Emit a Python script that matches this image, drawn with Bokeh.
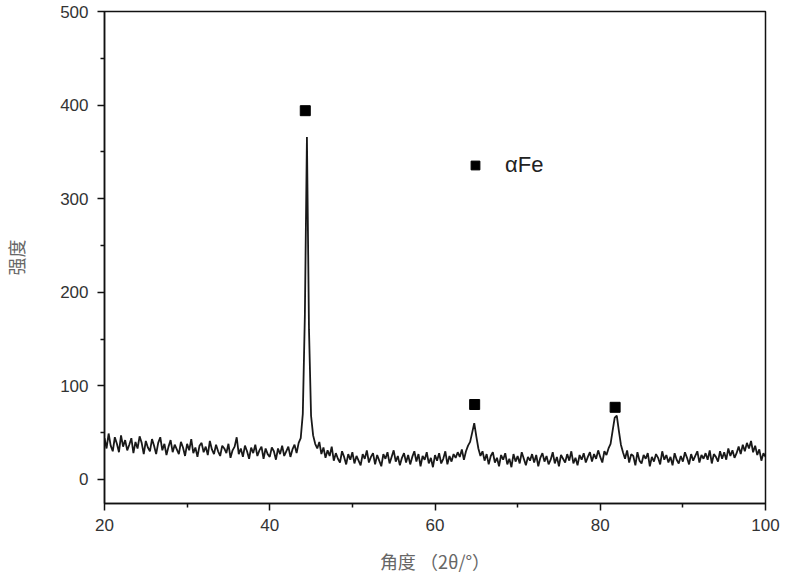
from bokeh.plotting import figure
from bokeh.models import FixedTicker, Legend, LegendItem, Range1d
from bokeh.embed import file_html
from bokeh.resources import INLINE

# XRD intensity, 2θ from 20° to 100° in 0.25° steps
intensity = [
    44, 33, 49, 36,   # 20
    30, 45, 38, 29,   # 21
    47, 35, 42, 31,   # 22
    37, 44, 28, 40,   # 23
    33, 46, 39, 27,   # 24
    41, 34, 30, 43,   # 25
    36, 27, 39, 45,   # 26
    31, 38, 26, 35,   # 27
    42, 29, 37, 32,   # 28
    27, 40, 34, 25,   # 29
    38, 31, 43, 28,   # 30
    34, 24, 36, 39,   # 31
    29, 35, 26, 41,   # 32
    32, 27, 37, 30,   # 33
    25, 36, 33, 28,   # 34
    38, 23, 31, 35,   # 35
    45, 27, 33, 24,   # 36
    36, 30, 22, 34,   # 37
    28, 37, 25, 31,   # 38
    35, 22, 33, 27,   # 39
    24, 34, 30, 21,   # 40
    33, 27, 36, 25,   # 41
    30, 35, 24, 32,   # 42
    37, 28, 39, 44,   # 43
    70, 175, 366, 160,  # 44
    68, 47, 38, 33,   # 45
    40, 27, 34, 23,   # 46
    31, 25, 35, 20,   # 47
    28, 22, 18, 30,   # 48
    24, 16, 27, 21,   # 49
    29, 17, 25, 20,   # 50
    15, 27, 22, 31,   # 51
    18, 24, 28, 16,   # 52
    26, 20, 14, 27,   # 53
    22, 29, 17, 24,   # 54
    31, 19, 25, 15,   # 55
    23, 28, 18, 26,   # 56
    16, 24, 30, 19,   # 57
    27, 14, 25, 21,   # 58
    29, 17, 23, 13,   # 59
    26, 20, 28, 17,   # 60
    22, 30, 16, 25,   # 61
    19, 27, 23, 29,   # 62
    24, 32, 21, 30,   # 63
    36, 40, 50, 60,   # 64
    46, 33, 25, 30,   # 65
    20, 27, 16, 25,   # 66
    29, 18, 23, 14,   # 67
    26, 21, 28, 16,   # 68
    22, 13, 27, 19,   # 69
    25, 17, 29, 22,   # 70
    15, 24, 20, 27,   # 71
    18, 26, 14, 23,   # 72
    28, 19, 25, 16,   # 73
    21, 29, 17, 24,   # 74
    14, 26, 22, 18,   # 75
    27, 20, 30, 17,   # 76
    23, 15, 26, 21,   # 77
    28, 18, 24, 29,   # 78
    19, 27, 22, 31,   # 79
    24, 18, 30, 26,   # 80
    33, 38, 52, 66,   # 81
    68, 52, 37, 29,   # 82
    22, 31, 18, 27,   # 83
    25, 15, 29, 20,   # 84
    17, 26, 22, 28,   # 85
    14, 24, 19, 27,   # 86
    23, 16, 30, 21,   # 87
    26, 18, 24, 15,   # 88
    28, 21, 17, 25,   # 89
    19, 29, 23, 16,   # 90
    27, 20, 25, 30,   # 91
    18, 26, 22, 28,   # 92
    21, 31, 17, 27,   # 93
    24, 19, 30, 22,   # 94
    29, 21, 33, 25,   # 95
    31, 23, 28, 35,   # 96
    27, 37, 30, 39,   # 97
    33, 41, 29, 36,   # 98
    26, 32, 20, 28,   # 99
    24,               # 100
]
two_theta = [20 + 0.25 * i for i in range(len(intensity))]

# αFe peak markers
peak_x = [44.3, 64.8, 81.8]
peak_y = [394, 80, 77]

x_ticks = [20, 40, 60, 80, 100]
x_minor = [30, 50, 70, 90]
y_ticks = [0, 100, 200, 300, 400, 500]
y_minor = [50, 150, 250, 350, 450]

p = figure(width=798, height=580, output_backend="svg", toolbar_location=None,
           x_range=Range1d(20, 100), y_range=Range1d(-25.8, 500),
           min_border_left=104, min_border_right=33, min_border_top=11, min_border_bottom=77)
p.background_fill_color = "white"
p.border_fill_color = "white"
p.outline_line_color = "#111111"
p.outline_line_width = 1.5
p.grid.visible = False

p.line(two_theta, intensity, line_color="black", line_width=1.8, line_alpha=0.9)
markers = p.scatter(peak_x, peak_y, marker="square", size=10, fill_color="black", line_color="black")

legend = Legend(items=[LegendItem(label="αFe", renderers=[markers])],
                location=(360, 325), orientation="vertical",
                background_fill_alpha=0, border_line_alpha=0,
                padding=0, margin=0, glyph_width=22, glyph_height=22, label_standoff=19,
                label_text_font="Liberation Sans", label_text_font_size="22px",
                label_text_color="#222222")
p.add_layout(legend)

for ax in (p.xaxis[0], p.yaxis[0]):
    ax.axis_line_width = 1.5
    ax.axis_line_color = "#111111"
    ax.major_tick_line_color = "#111111"
    ax.minor_tick_line_color = "#111111"
    ax.major_tick_line_width = 1.5
    ax.minor_tick_line_width = 1.5
    ax.major_tick_in = 0
    ax.major_tick_out = 7
    ax.minor_tick_in = 0
    ax.minor_tick_out = 4
    ax.major_label_text_font = "Liberation Sans"
    ax.major_label_text_font_size = "17px"
    ax.major_label_text_color = "#333333"
    ax.axis_label_text_font = "Noto Sans CJK SC"
    ax.axis_label_text_font_size = "18px"
    ax.axis_label_text_font_style = "normal"
    ax.axis_label_text_color = "#666666"

p.xaxis[0].ticker = FixedTicker(ticks=x_ticks, minor_ticks=x_minor)
p.yaxis[0].ticker = FixedTicker(ticks=y_ticks, minor_ticks=y_minor)
p.xaxis[0].major_label_standoff = 8
p.yaxis[0].major_label_standoff = 9
p.xaxis[0].axis_label = "角度 （2θ/°）"
p.yaxis[0].axis_label = "强度"
p.xaxis[0].axis_label_standoff = 14
p.yaxis[0].axis_label_standoff = 28

open("out.html", "w").write(file_html(p, INLINE))
